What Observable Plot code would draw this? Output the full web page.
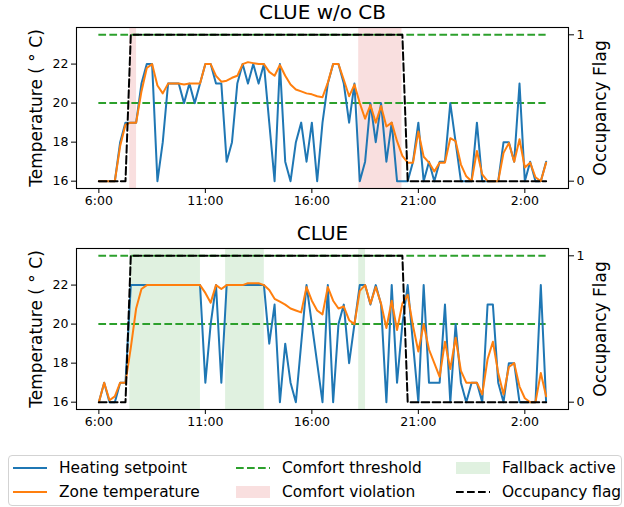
<!DOCTYPE html>
<html><head><meta charset="utf-8">
<script src="https://cdn.jsdelivr.net/npm/d3@7"></script>
<script src="https://cdn.jsdelivr.net/npm/@observablehq/plot@0.6"></script>
<style>
body{margin:0;background:#fff;font-family:"DejaVu Sans",sans-serif;}
#wrap{position:relative;width:624px;height:507px;overflow:hidden;}
#wrap svg{display:block;}
.legend{position:absolute;left:8px;top:455px;width:614px;height:51px;border:1px solid #d3d3d3;border-radius:4px;box-sizing:border-box;background:#fff;}
.item{position:absolute;font-size:15.4px;line-height:16px;white-space:nowrap;color:#000;}
.sw{position:absolute;}
</style></head><body><div id="wrap"></div><script>
// time of day in hours (values past 24 are the next morning), one sample per 15 min
const times = [6,6.25,6.5,6.75,7,7.25,7.5,7.75,8,8.25,8.5,8.75,9,9.25,9.5,9.75,10,10.25,10.5,10.75,11,11.25,11.5,11.75,12,12.25,12.5,12.75,13,13.25,13.5,13.75,14,14.25,14.5,14.75,15,15.25,15.5,15.75,16,16.25,16.5,16.75,17,17.25,17.5,17.75,18,18.25,18.5,18.75,19,19.25,19.5,19.75,20,20.25,20.5,20.75,21,21.25,21.5,21.75,22,22.25,22.5,22.75,23,23.25,23.5,23.75,24,24.25,24.5,24.75,25,25.25,25.5,25.75,26,26.25,26.5,26.75,27];

// Panel 1: CLUE w/o CB
const setpointNoCB = [16,16,16,16,18,19,19,19,21,22,22,16,18,21,21,21,20,21,20,21,22,22,21,21,17,18,21,22,21,22,21,22,19,16,22,17,16,18,19,17,19,16,19,21,22,22,21,19,21,16,17,20,18,20,17,19,16,16,16,17,19,16,17,16,17,17,20,18,16,16,16,19,16,16,16,16,18,18,17,21,16,17,16,16,17];
const zoneNoCB = [16,16,16,16,17.8,18.9,19,19,20.6,21.8,22,20.9,20.5,21,21,21,20.95,21,21,21,22,22,21.4,21.1,21.15,21.3,21.4,22,22.1,22.05,22,22,21.6,21.4,21.95,21.4,20.95,20.7,20.6,20.5,20.45,20.35,20.3,21.05,22,22,21.2,20.35,20.95,20,19.2,19.9,19,19.85,18.8,19,18.05,17.3,16.95,16.95,18.55,17.25,16.95,16.5,16.95,16.95,18.2,18.05,16.85,16.25,16,17.55,16.35,16,16,16,17.45,17.95,17,18.15,16.7,16.95,16.2,16,16.95];
const occNoCB = [0,0,0,0,0,0,1,1,1,1,1,1,1,1,1,1,1,1,1,1,1,1,1,1,1,1,1,1,1,1,1,1,1,1,1,1,1,1,1,1,1,1,1,1,1,1,1,1,1,1,1,1,1,1,1,1,1,1,0,0,0,0,0,0,0,0,0,0,0,0,0,0,0,0,0,0,0,0,0,0,0,0,0,0,0];
const violationNoCB = [[7.45,7.77],[18.2,20.23]];

// Panel 2: CLUE
const setpointClue = [16,17,16,16,17,17,22,22,22,22,22,22,22,22,22,22,22,22,22,22,17,20,22,17,22,22,22,22,22,22,22,22,19,21,16,19,17,16,19,22,20,18,16,22,16,20,21,18,20,22,22,21,22,21,16,22,17,20,22,19,16,22,17,17,17,21,16,20,17,16,17,17,16,21,21,17,16,18,18,16,16,16,16,22,16];
const zoneClue = [16,17,16.1,16.3,17,17,18.8,20.8,21.8,22,22,22,22,22,22,22,22,22,22,22,21.6,21.1,22,21.8,22,22,22,22,22.1,22.1,22.1,22,21.75,21.3,21.15,21,20.8,20.7,20.6,21.9,21.2,20.7,20.5,21.9,21.2,20.8,20.9,20.2,20,21.7,22,21.05,21.9,21.05,19.8,21.2,19.7,21.05,21.5,19.9,18.6,20,18.7,18,17.3,19.1,17.7,19.3,17.6,17,17,17,16.4,18.2,19.1,17.5,16.4,17.8,18,16.8,16.2,16,16,17.5,16.3];
const occClue = [0,0,0,0,0,0,1,1,1,1,1,1,1,1,1,1,1,1,1,1,1,1,1,1,1,1,1,1,1,1,1,1,1,1,1,1,1,1,1,1,1,1,1,1,1,1,1,1,1,1,1,1,1,1,1,1,1,1,0,0,0,0,0,0,0,0,0,0,0,0,0,0,0,0,0,0,0,0,0,0,0,0,0,0,0];
const fallbackClue = [[7.45,10.77],[11.95,13.77],[18.2,18.52]];

const thresholds = [20, 23.5];
const xTicks = [6, 11, 16, 21, 26];
const yTicks = [16, 18, 20, 22];
const occTicks = [0, 1];
const titles = ["CLUE w/o CB", "CLUE"];
const yLabel = "Temperature ( \u00B0 C)";
const occLabel = "Occupancy Flag";

const BLUE = "#1f77b4", ORANGE = "#ff7f0e", GREEN = "#2ca02c", RED = "#d62728";
const DASH = "7.7,3.3";

const tMin = d3.min(times), tMax = d3.max(times);
const xPad = 0.05 * (tMax - tMin);
const yLo = 16, yHi = d3.max(thresholds);
const yPad = 0.05 * (yHi - yLo);
// occupancy (0..1, right axis) shares the frame: 0 aligns with 16 and 1 with the upper threshold
const occY = o => yLo + o * (yHi - yLo);
const fmtTime = h => `${h % 24}:00`;

function panel(title, setpoint, zone, occ, spans, spanColor) {
  const rows = times.map((t, i) => ({t, sp: setpoint[i], zt: zone[i], occ: occ[i]}));
  return Plot.plot({
    width: 624, height: 221,
    marginLeft: 76, marginRight: 56, marginTop: 27, marginBottom: 33,
    x: {domain: [tMin - xPad, tMax + xPad]},
    y: {domain: [yLo - yPad, yHi + yPad]},
    style: {fontFamily: "DejaVu Sans", fontSize: "12.5px", color: "#000", background: "#fff", overflow: "visible"},
    marks: [
      Plot.rect(spans, {x1: d => d[0], x2: d => d[1], fill: spanColor, fillOpacity: 0.15}),
      Plot.ruleY(thresholds, {y: d => d, x1: tMin, x2: tMax, stroke: GREEN, strokeWidth: 2, strokeDasharray: DASH}),
      Plot.line(rows, {x: "t", y: "sp", stroke: BLUE, strokeWidth: 2}),
      Plot.line(rows, {x: "t", y: "zt", stroke: ORANGE, strokeWidth: 2}),
      Plot.line(rows, {x: "t", y: d => occY(d.occ), stroke: "#000", strokeWidth: 2, strokeDasharray: DASH}),
      Plot.frame({stroke: "#000", strokeWidth: 1.1}),
      Plot.axisX(xTicks, {tickFormat: fmtTime, tickSize: 5, tickPadding: 3, label: null}),
      Plot.axisY(yTicks, {anchor: "left", tickSize: 5, tickPadding: 3, label: null}),
      Plot.axisY(occTicks.map(occY), {anchor: "right", tickSize: 5, tickPadding: 3, label: null,
        tickFormat: d => String(Math.round((d - yLo) / (yHi - yLo)))}),
      Plot.text([title], {frameAnchor: "top", dy: -15, fontSize: 20, lineAnchor: "middle", textAnchor: "middle"}),
      Plot.text([yLabel], {frameAnchor: "left", rotate: -90, dx: -40, fontSize: 17, lineAnchor: "middle", textAnchor: "middle"}),
      Plot.text([occLabel], {frameAnchor: "right", rotate: -90, dx: 32, fontSize: 17, lineAnchor: "middle", textAnchor: "middle"})
    ]
  });
}

const wrap = document.getElementById("wrap");
wrap.appendChild(panel(titles[0], setpointNoCB, zoneNoCB, occNoCB, violationNoCB, RED));
wrap.appendChild(panel(titles[1], setpointClue, zoneClue, occClue, fallbackClue, GREEN));

// legend
const legendItems = [
  {label: "Heating setpoint", kind: "line", color: BLUE, col: 0, row: 0},
  {label: "Zone temperature", kind: "line", color: ORANGE, col: 0, row: 1},
  {label: "Comfort threshold", kind: "dash", color: GREEN, col: 1, row: 0},
  {label: "Comfort violation", kind: "patch", color: RED, col: 1, row: 1},
  {label: "Fallback active", kind: "patch", color: GREEN, col: 2, row: 0},
  {label: "Occupancy flag", kind: "dash", color: "#000", col: 2, row: 1}
];
const colX = [4, 227, 447];
const rowY = [12, 36];
const leg = document.createElement("div");
leg.className = "legend";
for (const it of legendItems) {
  const sw = document.createElementNS("http://www.w3.org/2000/svg", "svg");
  sw.setAttribute("width", 34); sw.setAttribute("height", 14);
  sw.setAttribute("class", "sw");
  sw.style.left = colX[it.col] + "px";
  sw.style.top = (rowY[it.row] - 7) + "px";
  if (it.kind === "patch") {
    const r = document.createElementNS("http://www.w3.org/2000/svg", "rect");
    r.setAttribute("x", 0); r.setAttribute("y", 1); r.setAttribute("width", 34); r.setAttribute("height", 12);
    r.setAttribute("fill", it.color); r.setAttribute("fill-opacity", 0.15);
    sw.appendChild(r);
  } else {
    const l = document.createElementNS("http://www.w3.org/2000/svg", "line");
    l.setAttribute("x1", 0); l.setAttribute("x2", 34); l.setAttribute("y1", 7); l.setAttribute("y2", 7);
    l.setAttribute("stroke", it.color); l.setAttribute("stroke-width", 2);
    if (it.kind === "dash") l.setAttribute("stroke-dasharray", DASH);
    sw.appendChild(l);
  }
  leg.appendChild(sw);
  const tx = document.createElement("div");
  tx.className = "item";
  tx.textContent = it.label;
  tx.style.left = (colX[it.col] + 46) + "px";
  tx.style.top = (rowY[it.row] - 8) + "px";
  leg.appendChild(tx);
}
wrap.appendChild(leg);
</script></body></html>
